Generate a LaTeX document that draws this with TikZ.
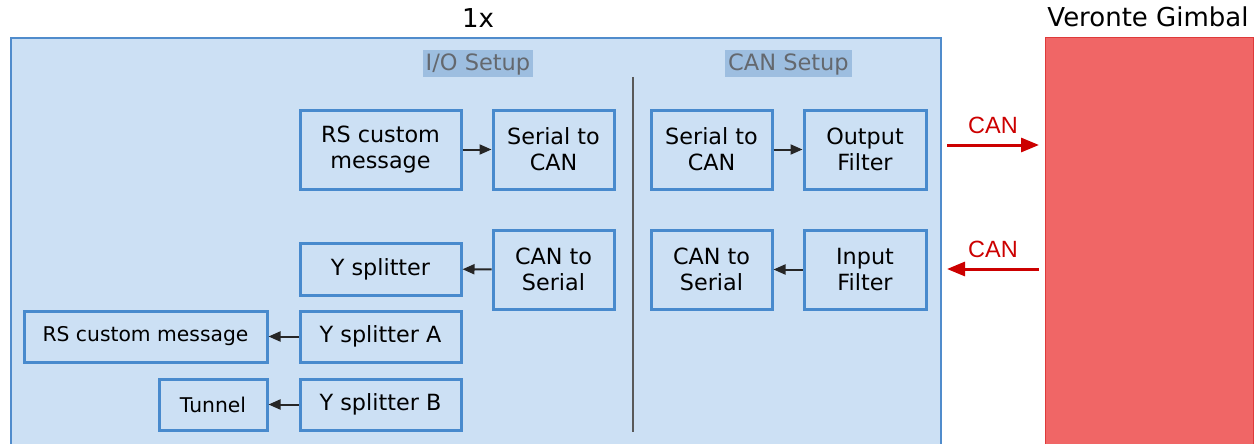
\documentclass[tikz,border=0pt]{standalone}
\usepackage{fontspec}
\setmainfont{DejaVu Sans}
\newfontfamily\arialf{Liberation Sans}
\usetikzlibrary{arrows.meta}
\definecolor{outerfill}{RGB}{204,224,244}
\definecolor{outerdraw}{RGB}{80,140,204}
\definecolor{boxdraw}{RGB}{72,138,205}
\definecolor{hdrfill}{RGB}{157,190,224}
\definecolor{hdrtext}{RGB}{100,104,110}
\definecolor{gimbalfill}{RGB}{240,102,102}
\definecolor{gimbaldraw}{RGB}{222,58,58}
\definecolor{canred}{RGB}{204,0,0}
\tikzset{
  blk/.style={draw=boxdraw, line width=3pt, inner sep=0pt, align=center,
    font=\fontsize{22.3}{26}\selectfont, text=black},
  blksmall/.style={blk, font=\fontsize{20.3}{24}\selectfont},
  hdr/.style={fill=hdrfill, text=hdrtext, inner xsep=3pt, inner ysep=0pt,
    minimum height=27pt, font=\fontsize{22.5}{26}\selectfont},
  title/.style={font=\fontsize{26}{30}\selectfont, text=black},
  conn/.style={line width=2pt, draw=black!85, -{Triangle[length=12pt,width=10pt]}},
  canarrow/.style={line width=3pt, draw=canred, -{Triangle[length=18pt,width=14pt]}},
  canlbl/.style={font=\arialf\fontsize{23.5}{26}\selectfont, text=canred}
}
\begin{document}
\begin{tikzpicture}[x=1pt,y=-1pt]
\useasboundingbox (0,0) rectangle (1256,444);
\clip (0,0) rectangle (1256,444);
% containers
\node[draw=outerdraw, line width=1.8pt, fill=outerfill, inner sep=0pt,
  minimum width=930pt, minimum height=420pt, anchor=north west] (setup) at (10,37) {};
\node[draw=gimbaldraw, line width=1.2pt, fill=gimbalfill, inner sep=0pt,
  minimum width=208pt, minimum height=420pt, anchor=north west] (gimbal) at (1045,37) {};
\node[title] (t1x) at (478,18) {1x};
\node[title] (tgim) at (1148,17) {Veronte Gimbal};
% headers
\node[hdr] (hio) at (478,64) {I/O Setup};
\node[hdr] (hcan) at (788.5,64) {CAN Setup};
% divider
\coordinate (divtop) at (633,77);
\coordinate (divbot) at (633,432);
\draw[line width=1.3pt, draw=black!65] (divtop) -- (divbot);
% blocks
\node[blk, minimum width=161pt, minimum height=79pt] (rs1) at (380.5,149.5) {RS custom\\message};
\node[blk, minimum width=121pt, minimum height=79pt] (s2c1) at (553.5,149.5) {Serial to\\CAN};
\node[blk, minimum width=121pt, minimum height=79pt] (s2c2) at (711.5,149.5) {Serial to\\CAN};
\node[blk, minimum width=122pt, minimum height=79pt] (outf) at (865,149.5) {Output\\Filter};
\node[blk, minimum width=161pt, minimum height=52pt] (ysp) at (380.5,269) {Y splitter};
\node[blk, minimum width=121pt, minimum height=79pt] (c2s1) at (553.5,269.5) {CAN to\\Serial};
\node[blk, minimum width=121pt, minimum height=79pt] (c2s2) at (711.5,269.5) {CAN to\\Serial};
\node[blk, minimum width=122pt, minimum height=79pt] (inf) at (865,269.5) {Input\\Filter};
\node[blksmall, minimum width=243pt, minimum height=51pt] (rs2) at (145.5,336.5) {RS custom message};
\node[blk, minimum width=161pt, minimum height=51pt] (ysa) at (380.5,336.5) {Y splitter A};
\node[blksmall, minimum width=108pt, minimum height=51pt] (tun) at (213,404.5) {Tunnel};
\node[blk, minimum width=161pt, minimum height=51pt] (ysb) at (380.5,404.5) {Y splitter B};
% connectors
\draw[conn] (rs1) -- (s2c1);
\draw[conn] (s2c2) -- (outf);
\draw[conn] (c2s1) -- (ysp);
\draw[conn] (inf) -- (c2s2);
\draw[conn] (ysa) -- (rs2);
\draw[conn] (ysb) -- (tun);
% CAN links
\coordinate (canAout) at (947,145);
\coordinate (canAin) at (1039,145);
\coordinate (canBout) at (1039,269);
\coordinate (canBin) at (947,269);
\draw[canarrow] (canAout) -- (canAin) node[canlbl, midway, above=6pt] (lblA) {CAN};
\draw[canarrow] (canBout) -- (canBin) node[canlbl, midway, above=6pt] (lblB) {CAN};
\end{tikzpicture}
\end{document}
